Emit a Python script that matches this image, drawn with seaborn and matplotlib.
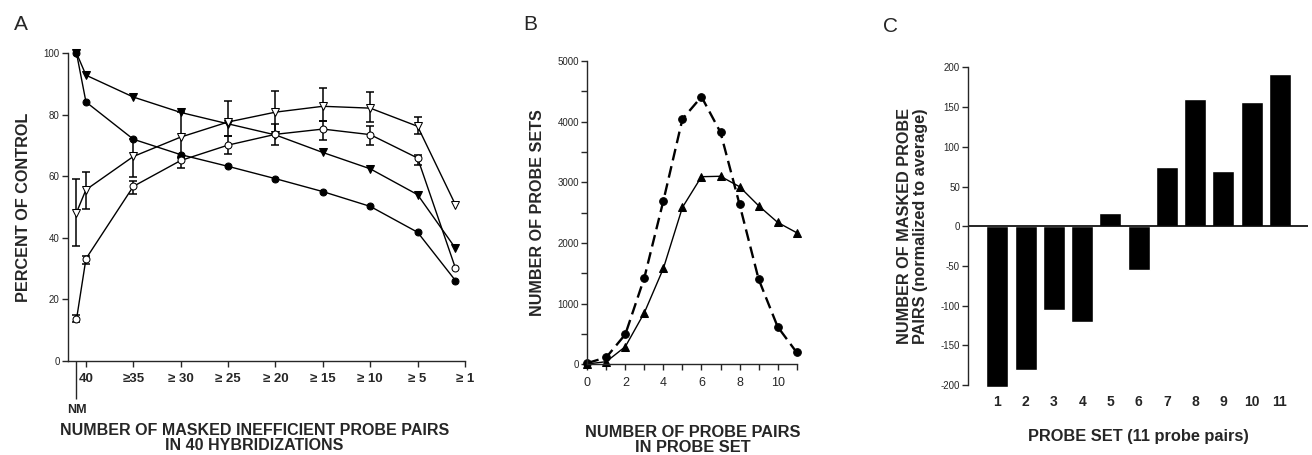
import matplotlib
matplotlib.use("Agg")
import matplotlib.pyplot as plt
import matplotlib.ticker as mticker
import seaborn as sns
import pandas as pd
import numpy as np

# ---- panel A: percent of control vs number of masked probe pairs ----
a_groups = ["NM", "40", "≥35", "≥30", "≥25", "≥20", "≥15", "≥10", "≥5", "≥1"]
a_ticklabels = ["40", "≥35", "≥ 30", "≥ 25", "≥ 20", "≥ 15", "≥ 10", "≥ 5", "≥ 1"]
a_filled_circle = [100, 84.1, 72.0, 67.0, 63.2, 59.2, 55.0, 50.2, 41.8, 26.1]
a_filled_tri = [100, 92.8, 85.7, 80.7, 77.0, 73.4, 67.7, 62.4, 54.0, 36.6]
a_open_tri = [48.2, 55.6, 66.4, 72.7, 77.6, 80.8, 82.7, 82.1, 76.2, 50.7]
a_open_tri_lo = [37.2, 49.3, 59.7, 66.0, 72.9, 73.8, 78.0, 77.6, 73.8, np.nan]
a_open_tri_hi = [59.0, 61.3, 72.0, 80.7, 84.5, 87.8, 88.6, 87.2, 79.1, np.nan]
a_open_circle = [13.5, 33.2, 56.7, 65.1, 70.1, 73.6, 75.3, 73.5, 65.9, 30.1]
a_open_circle_lo = [12.5, 31.5, 54.3, 62.6, 67.2, 70.2, 71.8, 70.2, 63.7, np.nan]
a_open_circle_hi = [14.8, 34.1, 58.3, 66.2, 72.9, 76.8, 78.0, 76.4, 67.0, np.nan]

# ---- panel B: distribution of probe pairs per probe set ----
b_pairs = list(range(12))
b_dashed_circle = [20, 115, 494, 1428, 2697, 4043, 4411, 3824, 2637, 1406, 620, 197]
b_solid_tri = [5, 44, 291, 851, 1582, 2587, 3093, 3100, 2928, 2615, 2340, 2170]

# ---- panel C: masked probe pairs normalized to average ----
c_probe = ["1", "2", "3", "4", "5", "6", "7", "8", "9", "10", "11"]
c_masked = [-202, -181, -106, -121, 17, -55, 75, 160, 70, 156, 192]

sns.set_style("ticks")
plt.rcParams["font.family"] = ["Liberation Sans", "DejaVu Sans"]
plt.rcParams["axes.linewidth"] = 1.0

fig = plt.figure(figsize=(13.12, 4.55), dpi=100)
ax_a = fig.add_axes([0.0518, 0.2066, 0.3026, 0.6769])
ax_b = fig.add_axes([0.4476, 0.1993, 0.1596, 0.6666])
ax_c = fig.add_axes([0.7380, 0.1538, 0.2587, 0.6980])

# ---------------- A ----------------
xa = np.arange(len(a_groups)) - 1.0
xa[0] = -0.2   # NM sits just right of the axis
xa[-1] = 7.8   # last group drawn left of its tick
df_a = pd.DataFrame({"x": xa, "fc": a_filled_circle, "ft": a_filled_tri,
                     "ot": a_open_tri, "oc": a_open_circle})

line_kw = dict(color="black", lw=1.0, errorbar=None, ax=ax_a, clip_on=False)
sns.lineplot(data=df_a, x="x", y="fc", marker="o", markersize=5,
             markerfacecolor="black", markeredgecolor="black", **line_kw)
sns.lineplot(data=df_a, x="x", y="ft", marker="v", markersize=6,
             markerfacecolor="black", markeredgecolor="black", **line_kw)
ax_a.errorbar(xa, a_open_tri, yerr=[np.array(a_open_tri) - np.array(a_open_tri_lo),
                                    np.array(a_open_tri_hi) - np.array(a_open_tri)],
              fmt="none", ecolor="black", elinewidth=1.1, capsize=3, capthick=1.1)
ax_a.errorbar(xa, a_open_circle, yerr=[np.array(a_open_circle) - np.array(a_open_circle_lo),
                                       np.array(a_open_circle_hi) - np.array(a_open_circle)],
              fmt="none", ecolor="black", elinewidth=1.1, capsize=3, capthick=1.1)
sns.lineplot(data=df_a, x="x", y="ot", marker="v", markersize=6,
             markerfacecolor="white", markeredgecolor="black", **line_kw)
sns.lineplot(data=df_a, x="x", y="oc", marker="o", markersize=5,
             markerfacecolor="white", markeredgecolor="black", **line_kw)

ax_a.set_xlim(-0.38, 8.0)
ax_a.set_ylim(0, 100)
ax_a.set_yticks([0, 20, 40, 60, 80, 100])
ax_a.set_xticks(range(9))
ax_a.set_xticklabels(a_ticklabels, fontweight="bold")
ax_a.set_xticks([-0.2], minor=True)
ax_a.set_xticklabels(["NM"], minor=True, fontweight="bold", fontsize=9)
ax_a.tick_params(axis="y", length=4, width=1, labelsize=7, pad=2)
ax_a.tick_params(axis="x", which="major", length=4, width=1, labelsize=9.5, pad=5)
ax_a.tick_params(axis="x", which="minor", length=27, width=1, pad=4)
sns.despine(ax=ax_a)
ax_a.set_ylabel("PERCENT OF CONTROL", fontsize=11.7, fontweight="bold", labelpad=9)
ax_a.set_xlabel("NUMBER OF MASKED INEFFICIENT PROBE PAIRS\nIN 40 HYBRIDIZATIONS",
                fontsize=11.5, fontweight="bold", linespacing=1.0)
ax_a.xaxis.set_label_coords(0.47, -0.2)

# ---------------- B ----------------
df_b = pd.DataFrame({"pairs": b_pairs, "dashed": b_dashed_circle, "solid": b_solid_tri})
sns.lineplot(data=df_b, x="pairs", y="dashed", color="black", lw=1.7,
             linestyle=(0, (5, 2.5)), marker="o", markersize=5.5,
             markeredgecolor="black", errorbar=None, ax=ax_b, clip_on=False)
sns.lineplot(data=df_b, x="pairs", y="solid", color="black", lw=1.0,
             marker="^", markersize=6, markeredgecolor="black",
             errorbar=None, ax=ax_b, clip_on=False)
ax_b.set_xlim(0, 11)
ax_b.set_ylim(0, 5000)
ax_b.set_xticks([0, 2, 4, 6, 8, 10])
ax_b.set_xticks(range(12), minor=True)
ax_b.set_yticks(range(0, 5001, 1000))
ax_b.set_yticks(range(0, 5001, 500), minor=True)
ax_b.tick_params(axis="both", which="both", length=4, width=1)
ax_b.tick_params(axis="y", labelsize=7, pad=2)
ax_b.tick_params(axis="x", labelsize=9, pad=5)
sns.despine(ax=ax_b)
ax_b.set_ylabel("NUMBER OF PROBE SETS", fontsize=11.6, fontweight="bold", labelpad=9)
ax_b.set_xlabel("NUMBER OF PROBE PAIRS\nIN PROBE SET", fontsize=11.8,
                fontweight="bold", linespacing=1.0)
ax_b.xaxis.set_label_coords(0.506, -0.2)

# ---------------- C ----------------
df_c = pd.DataFrame({"probe": c_probe, "masked": c_masked})
sns.barplot(data=df_c, x="probe", y="masked", color="black", saturation=1,
            width=0.78, ax=ax_c)
for bar in ax_c.patches:
    bar.set_clip_on(False)
ax_c.axhline(0, color="black", lw=1.2)
ax_c.set_xlim(-1.03, 10.98)
ax_c.set_ylim(-200, 200)
ax_c.set_yticks(range(-200, 201, 50))
ax_c.yaxis.set_major_formatter(mticker.FuncFormatter(lambda v, p: str(int(v))))
ax_c.tick_params(axis="y", length=4, width=1, labelsize=7, pad=2)
ax_c.tick_params(axis="x", length=0, labelsize=10, pad=7)
for lab in ax_c.get_xticklabels():
    lab.set_fontweight("bold")
sns.despine(ax=ax_c, bottom=True)
ax_c.set_ylabel("NUMBER OF MASKED PROBE\nPAIRS (normalized to average)",
                fontsize=11.7, fontweight="bold", labelpad=9, linespacing=1.05)
ax_c.set_xlabel("PROBE SET (11 probe pairs)", fontsize=11.8, fontweight="bold")
ax_c.xaxis.set_label_coords(0.5, -0.14)

# panel letters
fig.text(0.011, 0.935, "A", fontsize=15)
fig.text(0.399, 0.935, "B", fontsize=15)
fig.text(0.673, 0.93, "C", fontsize=15)

fig.savefig("out.png", dpi=100)
